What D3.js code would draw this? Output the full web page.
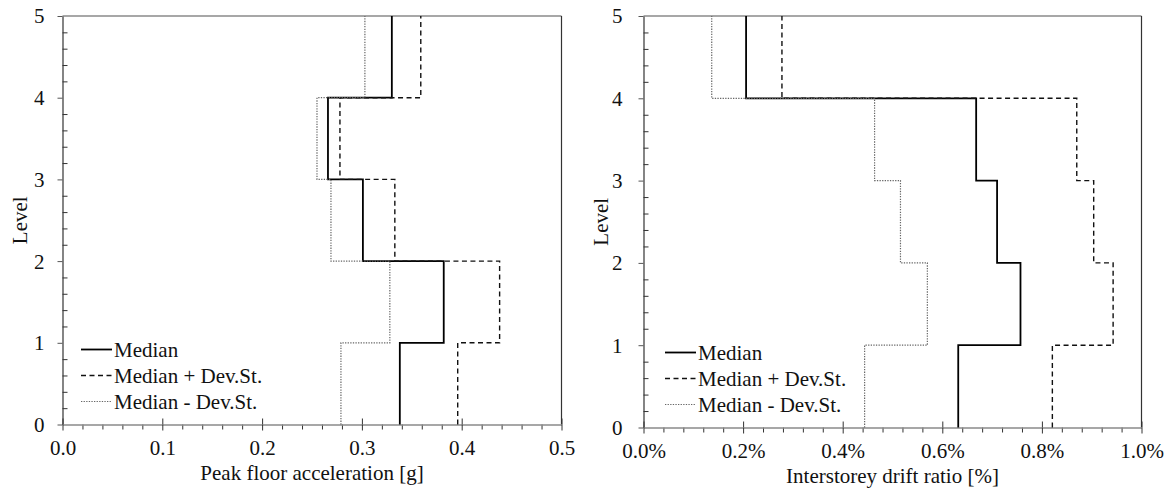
<!DOCTYPE html>
<html>
<head>
<meta charset="utf-8">
<script src="https://cdn.jsdelivr.net/npm/d3@7"></script>
<style>
  body { margin: 0; background: #fff; }
  svg text { font-family: "Liberation Serif", "Times New Roman", serif; fill: #111; }
</style>
</head>
<body>
<div class="container"></div>
<script>
  // storey values, index i = from level i to level i+1
  var levels = [0, 1, 2, 3, 4, 5];
  var seriesNames = ["Median", "Median + Dev.St.", "Median - Dev.St."];

  var pfaMedian = [0.338, 0.382, 0.301, 0.266, 0.330];
  var pfaPlus = [0.396, 0.438, 0.333, 0.278, 0.359];
  var pfaMinus = [0.279, 0.328, 0.269, 0.255, 0.303];

  var idrMedian = [0.632, 0.757, 0.710, 0.668, 0.206];
  var idrPlus = [0.821, 0.943, 0.904, 0.870, 0.278];
  var idrMinus = [0.444, 0.570, 0.516, 0.464, 0.137];

  var pfaTicks = [0, 0.1, 0.2, 0.3, 0.4, 0.5];
  var idrTicks = [0, 0.2, 0.4, 0.6, 0.8, 1.0];

  var width = 1175,
    height = 489,
    serif = "'Liberation Serif', 'Times New Roman', serif";

  var styles = [
    { stroke: "#000", width: 1.8, dash: null },
    { stroke: "#111", width: 1.4, dash: "5,3.5" },
    { stroke: "#666", width: 1.2, dash: "1.3,1.3" }
  ];

  var svg = d3.select(".container").append("svg")
    .attr("width", width)
    .attr("height", height);

  function drawPanel(p) {
    var x = d3.scaleLinear().domain([p.ticks[0], p.ticks[p.ticks.length - 1]]).range([p.left, p.right]);
    var y = d3.scaleLinear().domain([0, 5]).range([p.bottom, p.top]);
    var g = svg.append("g");

    // frame top / right
    g.append("line").attr("x1", p.left).attr("x2", p.right).attr("y1", p.top).attr("y2", p.top)
      .attr("stroke", "#8a8a8a").attr("stroke-width", 1.3);
    g.append("line").attr("x1", p.right).attr("x2", p.right).attr("y1", p.top).attr("y2", p.bottom)
      .attr("stroke", "#333").attr("stroke-width", 1.2);

    // y axis: minor ticks inside, major outside
    var yMinor = d3.range(0, 5.01, 0.2).filter(function(d) { return Math.abs(d - Math.round(d)) > 0.01; });
    g.append("g").attr("transform", "translate(" + p.left + ",0)")
      .call(d3.axisRight(y).tickValues(yMinor).tickSize(5).tickFormat(""))
      .call(function(a) { a.select(".domain").remove(); a.selectAll("line").attr("stroke", "#333"); });
    var yAxis = g.append("g").attr("transform", "translate(" + p.left + ",0)")
      .call(d3.axisLeft(y).tickValues(levels).tickSize(5).tickSizeOuter(0)
        .tickPadding(p.yPad).tickFormat(d3.format("d")));
    yAxis.attr("font-family", serif).attr("font-size", 21);
    yAxis.select(".domain").attr("stroke", "#333").attr("stroke-width", 1.2);
    yAxis.selectAll("line").attr("stroke", "#555");
    yAxis.selectAll("text").attr("dy", "0.33em");

    // x axis: minor ticks outside, major cross
    var step = (p.ticks[1] - p.ticks[0]) / 5;
    var xMinor = d3.range(0, 51).map(function(i) { return p.ticks[0] + i * step; })
      .filter(function(d, i) { return i % 5 !== 0 && d <= p.ticks[p.ticks.length - 1] + 1e-9; });
    g.append("g").attr("transform", "translate(0," + p.bottom + ")")
      .call(d3.axisBottom(x).tickValues(xMinor).tickSize(5).tickFormat(""))
      .call(function(a) { a.select(".domain").remove(); a.selectAll("line").attr("stroke", "#333"); });
    g.append("g").attr("transform", "translate(0," + p.bottom + ")")
      .call(d3.axisTop(x).tickValues(p.ticks).tickSize(6).tickFormat(""))
      .call(function(a) { a.select(".domain").remove(); a.selectAll("line").attr("stroke", "#333"); });
    var xAxis = g.append("g").attr("transform", "translate(0," + p.bottom + ")")
      .call(d3.axisBottom(x).tickValues(p.ticks).tickSize(6).tickSizeOuter(0).tickPadding(10).tickFormat(p.format));
    xAxis.attr("font-family", serif).attr("font-size", 21);
    xAxis.select(".domain").attr("stroke", "#8a8a8a").attr("stroke-width", 1.3);
    xAxis.selectAll("line").attr("stroke", "#333");
    xAxis.selectAll("text").attr("dy", "0.7em");

    // axis titles
    g.append("text")
      .attr("x", (p.left + p.right) / 2)
      .attr("y", p.bottom + 55)
      .attr("text-anchor", "middle")
      .style("font-size", "21px")
      .text(p.xTitle);
    g.append("text")
      .attr("transform", "translate(" + (p.left - 36) + "," + ((p.top + p.bottom) / 2) + ") rotate(-90)")
      .attr("text-anchor", "middle")
      .style("font-size", "21px")
      .text("Level");

    // stepped profiles
    var line = d3.line()
      .x(function(d) { return x(d[0]); })
      .y(function(d) { return y(d[1]); })
      .curve(d3.curveStepBefore);

    p.series.forEach(function(vals, k) {
      var pts = vals.map(function(v, i) { return [v, levels[i]]; });
      pts.push([vals[vals.length - 1], levels[levels.length - 1]]);
      var s = styles[k];
      g.append("path")
        .attr("d", line(pts))
        .attr("fill", "none")
        .attr("stroke", s.stroke)
        .attr("stroke-width", s.width)
        .attr("stroke-dasharray", s.dash);
    });

    // legend
    var lg = g.append("g").attr("transform", "translate(" + (p.left + p.legendDx) + "," + (p.bottom - 75) + ")");
    seriesNames.forEach(function(name, k) {
      var s = styles[k];
      lg.append("line")
        .attr("x1", 0).attr("x2", 31)
        .attr("y1", k * 26).attr("y2", k * 26)
        .attr("stroke", s.stroke)
        .attr("stroke-width", s.width)
        .attr("stroke-dasharray", s.dash);
      lg.append("text")
        .attr("x", 33)
        .attr("y", k * 26 + 7)
        .style("font-size", "21px")
        .text(name);
    });
  }

  drawPanel({
    left: 62.5, right: 561.5, top: 16, bottom: 424.5,
    yPad: 13, legendDx: 18.5,
    ticks: pfaTicks,
    format: d3.format(".1f"),
    xTitle: "Peak floor acceleration [g]",
    series: [pfaMedian, pfaPlus, pfaMinus]
  });

  drawPanel({
    left: 643.5, right: 1141.5, top: 16, bottom: 427.5,
    yPad: 16, legendDx: 21.5,
    ticks: idrTicks,
    format: function(d) { return d.toFixed(1) + "%"; },
    xTitle: "Interstorey drift ratio [%]",
    series: [idrMedian, idrPlus, idrMinus]
  });
</script>
</body>
</html>
